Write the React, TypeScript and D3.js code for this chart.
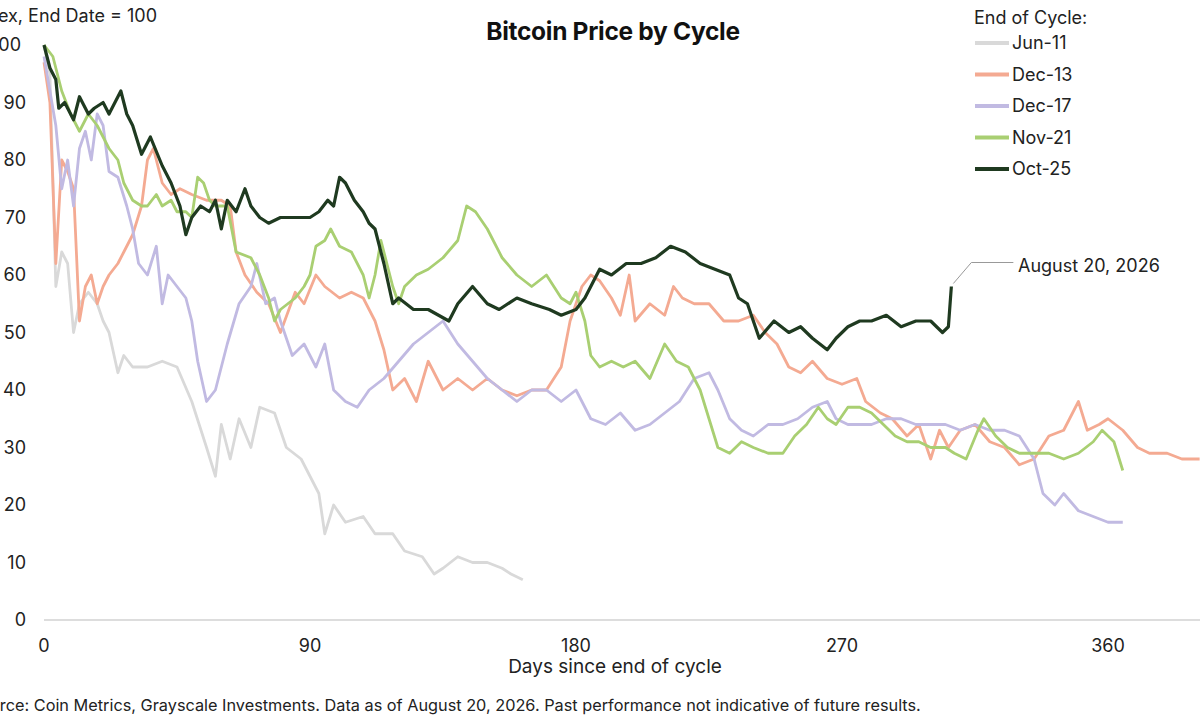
import React from "react";
import * as d3 from "d3";

const jun11 = [[0,100],[2,95],[4,58],[6,64],[8,62],[10,50],[12,55],[15,57],[18,55],[20,52],[22,50],[25,43],[27,46],[30,44],[35,44],[40,45],[45,44],[50,38],[55,30],[58,25],[60,34],[63,28],[66,35],[70,30],[73,37],[78,36],[82,30],[87,28],[90,25],[93,22],[95,15],[98,20],[102,17],[108,18],[112,15],[118,15],[122,12],[128,11],[132,8],[135,9],[140,11],[145,10],[150,10],[155,9],[158,8],[162,7]];
const dec13 = [[0,97],[2,90],[4,62],[6,80],[8,78],[10,75],[12,52],[14,58],[16,60],[18,55],[20,58],[22,60],[25,62],[27,64],[30,67],[33,72],[35,80],[37,82],[40,76],[43,74],[46,75],[50,74],[55,73],[60,73],[63,72],[65,64],[68,60],[72,57],[76,55],[80,50],[85,57],[88,55],[92,60],[95,58],[100,56],[104,57],[108,56],[112,52],[115,47],[118,40],[122,42],[126,38],[130,45],[135,40],[140,42],[145,40],[150,42],[155,40],[160,39],[165,40],[170,40],[175,44],[178,52],[182,58],[185,60],[188,59],[192,56],[195,53],[198,60],[200,52],[205,55],[210,53],[213,58],[216,56],[220,55],[225,55],[230,52],[235,52],[240,53],[244,50],[248,48],[252,44],[256,43],[260,45],[265,42],[270,41],[275,42],[278,38],[283,36],[287,35],[292,32],[296,34],[300,28],[303,33],[306,30],[310,33],[315,34],[320,31],[325,30],[330,27],[335,28],[340,32],[345,33],[350,38],[353,33],[357,34],[360,35],[365,33],[370,30],[374,29],[380,29],[385,28],[391,28]];
const dec17 = [[0,98],[2,92],[4,86],[6,75],[8,80],[10,72],[12,82],[14,85],[16,80],[18,88],[20,86],[22,78],[25,77],[28,72],[30,68],[32,62],[35,60],[38,65],[40,55],[42,60],[45,58],[48,56],[50,52],[52,45],[55,38],[58,40],[62,48],[66,55],[70,58],[72,62],[75,55],[78,56],[80,52],[84,46],[88,48],[92,44],[95,48],[98,40],[102,38],[106,37],[110,40],[115,42],[120,45],[125,48],[130,50],[135,52],[140,48],[145,45],[150,42],[155,40],[160,38],[165,40],[170,40],[175,38],[180,40],[185,35],[190,34],[195,36],[200,33],[205,34],[210,36],[215,38],[220,42],[225,43],[228,40],[232,35],[236,33],[240,32],[245,34],[250,34],[255,35],[260,37],[265,38],[268,35],[272,34],[276,34],[280,34],[285,35],[290,35],[295,34],[300,34],[305,34],[310,33],[315,34],[320,33],[325,33],[330,32],[335,28],[338,22],[342,20],[345,22],[350,19],[355,18],[360,17],[365,17]];
const nov21 = [[0,100],[3,98],[6,92],[9,88],[12,85],[15,88],[18,86],[20,84],[22,82],[25,80],[27,76],[30,73],[33,72],[35,72],[38,74],[40,72],[43,73],[45,71],[48,71],[50,70],[52,77],[54,76],[56,73],[58,72],[60,72],[62,72],[65,64],[70,63],[73,60],[76,56],[78,52],[80,54],[85,56],[88,58],[90,60],[92,65],[95,66],[97,68],[100,65],[104,64],[108,60],[110,56],[112,60],[114,66],[116,62],[118,58],[120,55],[122,58],[126,60],[130,61],[135,63],[140,66],[143,72],[146,71],[150,68],[155,63],[160,60],[165,58],[170,60],[175,56],[178,55],[180,57],[183,52],[185,46],[188,44],[192,45],[196,44],[200,45],[205,42],[210,48],[214,45],[218,44],[222,40],[225,35],[228,30],[232,29],[236,31],[240,30],[245,29],[250,29],[254,32],[258,34],[262,37],[265,35],[268,34],[272,37],[276,37],[280,36],[284,34],[288,32],[292,31],[296,31],[300,30],[305,30],[308,29],[312,28],[316,33],[318,35],[322,32],[326,30],[330,29],[335,29],[340,29],[345,28],[350,29],[355,31],[358,33],[362,31],[365,26]];
const oct25 = [[0,100],[2,96],[4,94],[5,89],[7,90],[10,87],[12,91],[15,88],[17,89],[20,90],[22,88],[26,92],[28,88],[30,86],[33,81],[36,84],[40,79],[43,76],[46,72],[48,67],[50,70],[53,72],[56,71],[58,73],[60,68],[62,73],[65,71],[68,75],[70,72],[73,70],[76,69],[80,70],[85,70],[90,70],[93,71],[96,73],[98,72],[100,77],[102,76],[105,73],[108,71],[110,69],[112,68],[115,62],[118,55],[120,56],[125,54],[130,54],[137,52],[140,55],[145,58],[150,55],[154,54],[160,56],[165,55],[171,54],[175,53],[180,54],[183,56],[188,61],[192,60],[197,62],[202,62],[207,63],[212,65],[217,64],[222,62],[227,61],[232,60],[235,56],[238,55],[242,49],[247,52],[252,50],[256,51],[260,49],[265,47],[268,49],[272,51],[276,52],[280,52],[285,53],[290,51],[295,52],[300,52],[304,50],[306,51],[307,58]];

const names = ["Jun-11", "Dec-13", "Dec-17", "Nov-21", "Oct-25"];
const colors = ["#d9d9d9", "#f4aa92", "#c1bae2", "#a9cf72", "#1f3a20"];
const seriesData = [jun11, dec13, dec17, nov21, oct25];
const xTicks = [0, 90, 180, 270, 360];
const yTicks = [0, 10, 20, 30, 40, 50, 60, 70, 80, 90, 100];

export default function App() {
  const x = d3.scaleLinear().domain([0, 90]).range([44, 310]);
  const y = d3.scaleLinear().domain([0, 100]).range([620, 45]);
  const line = d3.line<number[]>().x(d => x(d[0])).y(d => y(d[1]));
  const font = "Inter, 'Open Sans', sans-serif";
  const last = oct25[oct25.length - 1];
  return (
    <svg width={1200} height={720} style={{ position: "absolute", left: 0, top: 0, background: "#fff" }} fontFamily={font}>
      <text x={613} y={40} textAnchor="middle" fontSize={24.5} fontWeight={700} fill="#111" letterSpacing={-0.3}>Bitcoin Price by Cycle</text>
      <text x={157} y={22} textAnchor="end" fontSize={18} fill="#222">Index, End Date = 100</text>
      {yTicks.map(t => (
        <text key={t} x={t === 100 ? 21 : 26} y={y(t) + 6} textAnchor="end" fontSize={18} fill="#222">{t}</text>
      ))}
      <line x1={44} x2={1200} y1={620} y2={620} stroke="#bbb" strokeWidth={1} />
      {xTicks.map(t => (
        <text key={t} x={x(t)} y={652} textAnchor="middle" fontSize={18} fill="#222">{t}</text>
      ))}
      <text x={615} y={673} textAnchor="middle" fontSize={19} fill="#222">Days since end of cycle</text>
      <text x={-30} y={711} fontSize={16.3} fill="#222">Source: Coin Metrics, Grayscale Investments. Data as of August 20, 2026. Past performance not indicative of future results.</text>
      {seriesData.map((s, i) => (
        <path key={i} d={line(s) || ""} fill="none" stroke={colors[i]} strokeWidth={i === 4 ? 3.2 : 2.8} strokeLinejoin="round" />
      ))}
      <polyline points={`${x(last[0]) + 2},${y(last[1]) - 3} ${x(last[0]) + 20},${y(last[1]) - 24} ${x(last[0]) + 62},${y(last[1]) - 24}`} fill="none" stroke="#999" strokeWidth={1} />
      <text x={1018} y={272} fontSize={18} fill="#222">August 20, 2026</text>
      <text x={974} y={24} fontSize={18} fill="#222">End of Cycle:</text>
      {names.map((n, i) => (
        <g key={n} transform={`translate(975, ${43 + i * 31.5})`}>
          <line x1={0} x2={34} y1={0} y2={0} stroke={colors[i]} strokeWidth={4} />
          <text x={37} y={6} fontSize={18} fill="#222">{n}</text>
        </g>
      ))}
    </svg>
  );
}
